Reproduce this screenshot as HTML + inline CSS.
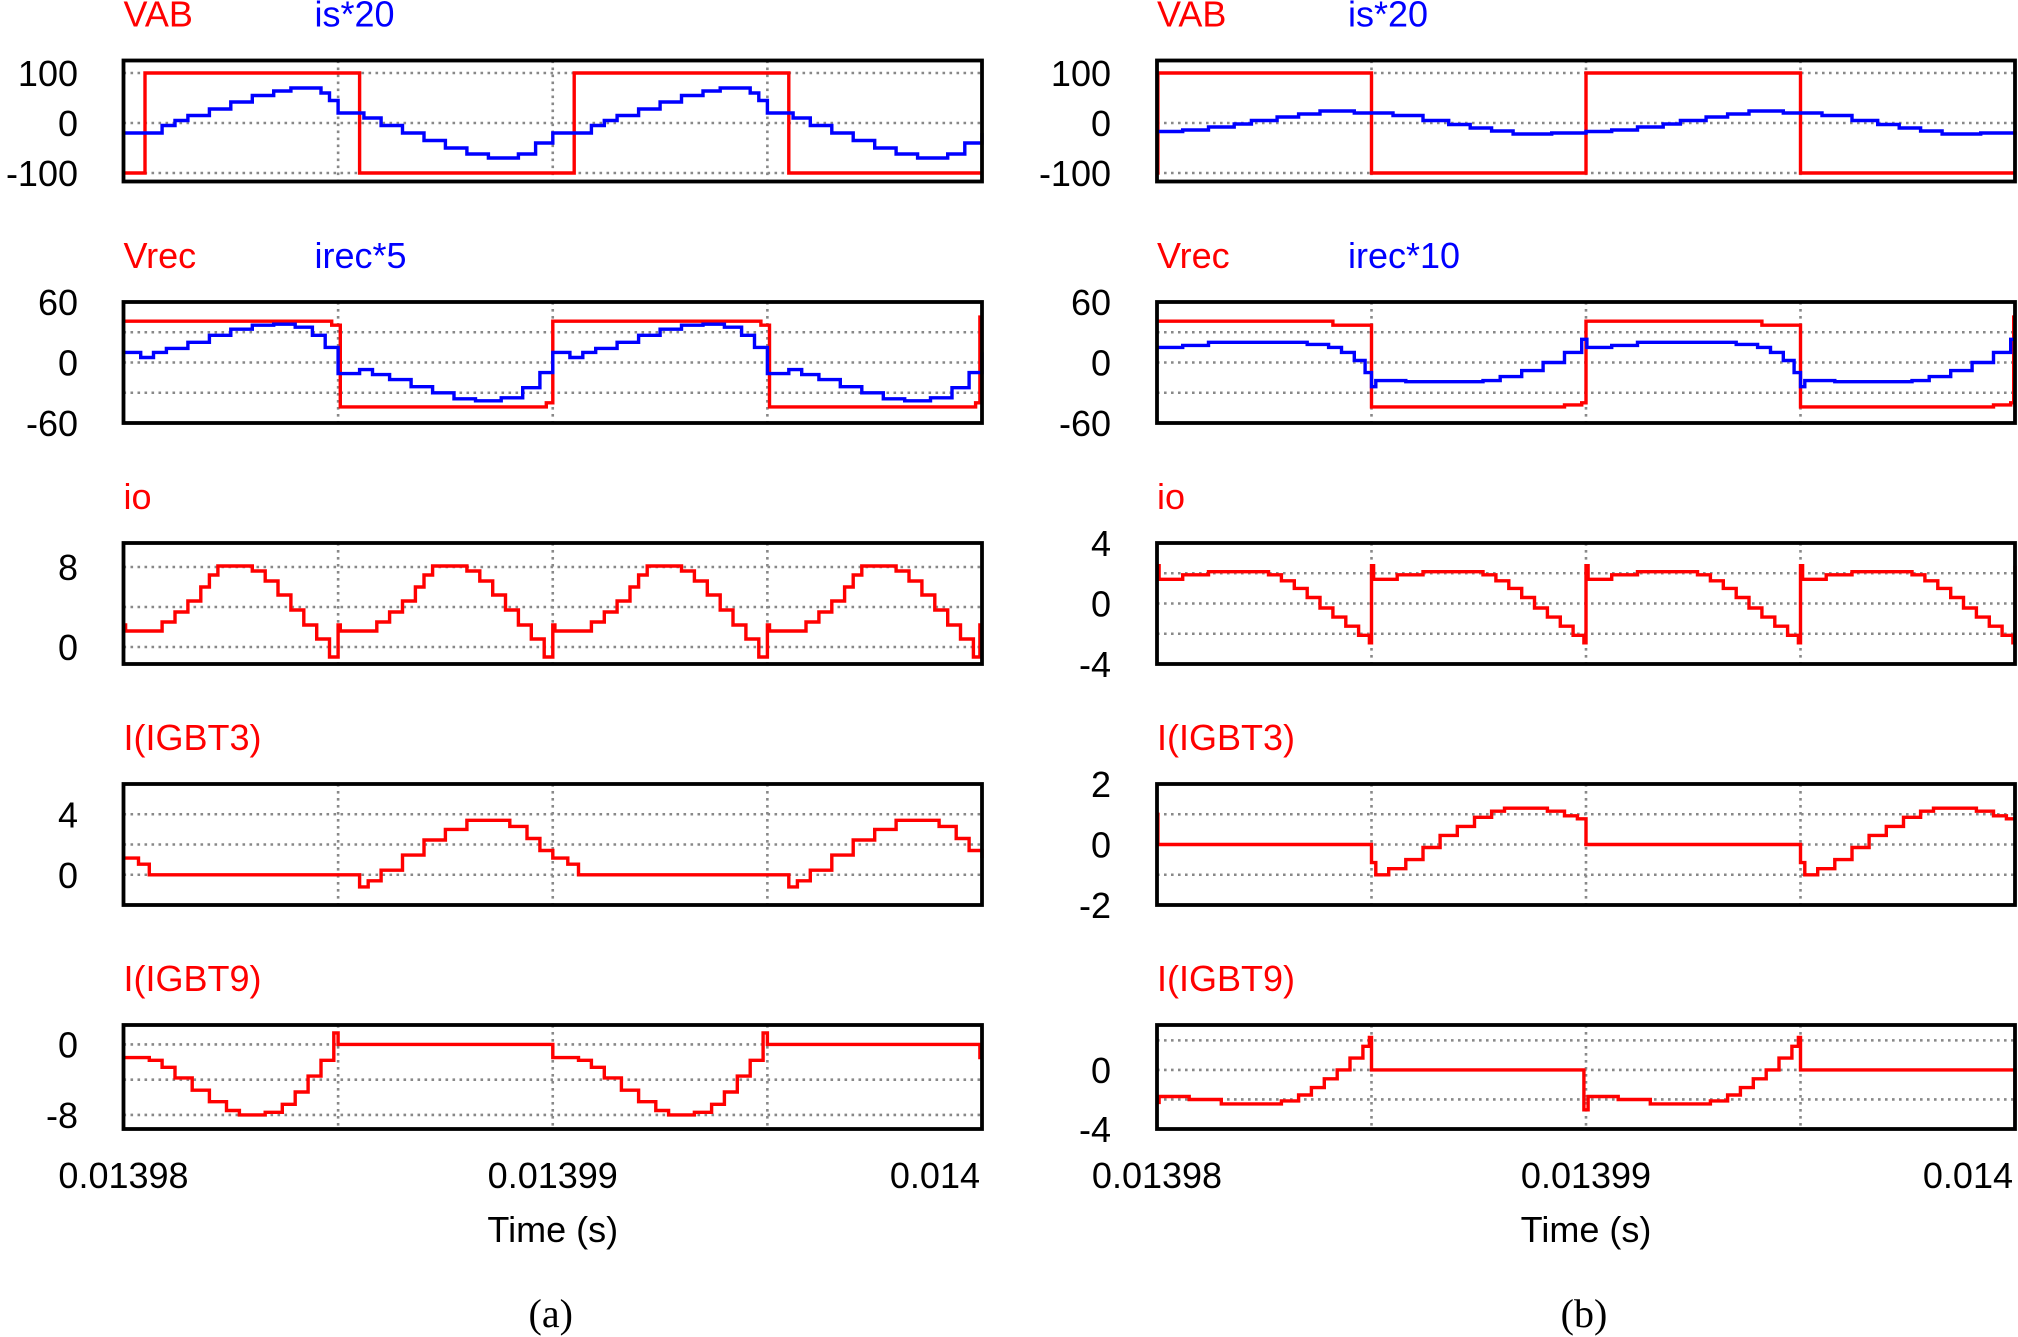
<!DOCTYPE html>
<html><head><meta charset="utf-8">
<style>
html,body{margin:0;padding:0;background:#fff;}
svg{display:block;}
text{font-family:"Liberation Sans",sans-serif;}
</style></head>
<body>
<svg id="fig" width="2018" height="1337" viewBox="0 0 2018 1337" xmlns="http://www.w3.org/2000/svg"></svg>
<script>
// ---- data (time in microseconds after 0.01398 s) ----
const xTickLabels = ["0.01398", "0.01399", "0.014"];
const xTickTimes = [0, 10, 20];

// Panel (a)
const aVAB = [[0,-100],[0.5,100],[5.5,-100],[10.5,100],[15.5,-100],[20,-100]];
const aIs = [[0,-20],[0.9,-5],[1.2,5],[1.5,15],[2,28],[2.5,42],[3,55],[3.5,64],[3.9,70],[4.6,60],[4.8,45],[5,20],[5.6,10],[6,-5],[6.5,-20],[7,-35],[7.5,-50],[8,-62],[8.5,-70],[9.2,-62],[9.6,-40],[10,-20],
  [10.9,-5],[11.2,5],[11.5,15],[12,28],[12.5,42],[13,55],[13.5,64],[13.9,70],[14.6,60],[14.8,45],[15,20],[15.6,10],[16,-5],[16.5,-20],[17,-35],[17.5,-50],[18,-62],[18.5,-70],[19.2,-62],[19.6,-40],[20,-20]];
const aVrec = [[0,41],[4.85,37],[5.05,-44],[9.85,-40],[10.0,41],[14.85,37],[15.05,-44],[19.85,-40],[19.95,45],[20,45]];
const aIrec = [[0,10],[0.4,5],[0.7,10],[1,14],[1.5,20],[2,27],[2.5,33],[3,37],[3.5,38],[4,35],[4.4,27],[4.7,15],[5,-11],[5.5,-7],[5.8,-12],[6.2,-17],[6.7,-24],[7.2,-30],[7.7,-36],[8.2,-38],[8.8,-35],[9.3,-25],[9.7,-10],[10,10],
  [10.4,5],[10.7,10],[11,14],[11.5,20],[12,27],[12.5,33],[13,37],[13.5,38],[14,35],[14.4,27],[14.7,15],[15,-11],[15.5,-7],[15.8,-12],[16.2,-17],[16.7,-24],[17.2,-30],[17.7,-36],[18.2,-38],[18.8,-35],[19.3,-25],[19.7,-10],[20,10]];
const aIo = [[0,2.2],[0.05,1.6],[0.9,2.5],[1.2,3.5],[1.5,4.6],[1.8,6],[2.0,7.2],[2.2,8.1],[3.0,7.6],[3.3,6.6],[3.6,5.2],[3.9,3.7],[4.2,2.2],[4.5,0.8],[4.8,-1],
  [5,2.2],[5.05,1.6],[5.9,2.5],[6.2,3.5],[6.5,4.6],[6.8,6],[7.0,7.2],[7.2,8.1],[8.0,7.6],[8.3,6.6],[8.6,5.2],[8.9,3.7],[9.2,2.2],[9.5,0.8],[9.8,-1],
  [10,2.2],[10.05,1.6],[10.9,2.5],[11.2,3.5],[11.5,4.6],[11.8,6],[12.0,7.2],[12.2,8.1],[13.0,7.6],[13.3,6.6],[13.6,5.2],[13.9,3.7],[14.2,2.2],[14.5,0.8],[14.8,-1],
  [15,2.2],[15.05,1.6],[15.9,2.5],[16.2,3.5],[16.5,4.6],[16.8,6],[17.0,7.2],[17.2,8.1],[18.0,7.6],[18.3,6.6],[18.6,5.2],[18.9,3.7],[19.2,2.2],[19.5,0.8],[19.8,-1],[19.95,2.2],[20,2.2]];
const aIgbt3 = [[0,1.1],[0.35,0.7],[0.6,0],[5.5,-0.8],[5.7,-0.4],[6,0.3],[6.5,1.3],[7,2.3],[7.5,3],[8,3.6],[8.6,3.6],[9,3.2],[9.4,2.4],[9.7,1.6],[10,1.1],[10.35,0.7],[10.6,0],
  [15.5,-0.8],[15.7,-0.4],[16,0.3],[16.5,1.3],[17,2.3],[17.5,3],[18,3.6],[18.6,3.6],[19,3.2],[19.4,2.4],[19.7,1.6],[20,1.1]];
const aIgbt9 = [[0,-1.5],[0.6,-1.8],[0.9,-2.6],[1.2,-3.8],[1.6,-5.2],[2,-6.5],[2.4,-7.5],[2.7,-8],[3.3,-7.7],[3.7,-6.8],[4.0,-5.4],[4.3,-3.6],[4.6,-1.8],[4.9,1.3],[5.0,0],
  [10,-1.5],[10.6,-1.8],[10.9,-2.6],[11.2,-3.8],[11.6,-5.2],[12,-6.5],[12.4,-7.5],[12.7,-8],[13.3,-7.7],[13.7,-6.8],[14.0,-5.4],[14.3,-3.6],[14.6,-1.8],[14.9,1.3],[15.0,0],[19.95,-1.5],[20,-1.5]];

// Panel (b)
const bVAB = [[0,-100],[0.02,100],[5,-100],[10,100],[15,-100],[20,-100]];
const bIs = [[0,-17],[0.6,-14],[1.2,-8],[1.8,-2],[2.2,5],[2.8,12],[3.3,18],[3.8,24],[4.6,20],[5.5,15],[6.2,5],[6.8,-3],[7.3,-10],[7.8,-16],[8.3,-22],[9.2,-20],[10,-17],
  [10.6,-14],[11.2,-8],[11.8,-2],[12.2,5],[12.8,12],[13.3,18],[13.8,24],[14.6,20],[15.5,15],[16.2,5],[16.8,-3],[17.3,-10],[17.8,-16],[18.3,-22],[19.2,-20],[20,-17]];
const bVrec = [[0,41],[4.1,37],[5.0,-44],[9.5,-42],[9.9,-40],[10.0,41],[14.1,37],[15.0,-44],[19.5,-42],[19.9,-40],[19.97,45],[20,45]];
const bIrec = [[0,15],[0.6,17],[1.2,20],[3.5,18],[4,15],[4.3,10],[4.6,2],[4.85,-10],[5,-24],[5.1,-18],[5.8,-19],[7.6,-18],[8,-14],[8.5,-8],[9,0],[9.5,10],[9.9,23],[10.02,15],
  [10.6,17],[11.2,20],[13.5,18],[14,15],[14.3,10],[14.6,2],[14.85,-10],[15,-24],[15.1,-18],[15.8,-19],[17.6,-18],[18,-14],[18.5,-8],[19,0],[19.5,10],[19.9,23],[20,23]];
const bIo = [[0,2.5],[0.05,1.6],[0.6,1.9],[1.2,2.1],[2.6,1.9],[2.9,1.5],[3.2,1.0],[3.5,0.4],[3.8,-0.3],[4.1,-0.9],[4.4,-1.5],[4.7,-2.1],[4.95,-2.6],
  [5,2.5],[5.05,1.6],[5.6,1.9],[6.2,2.1],[7.6,1.9],[7.9,1.5],[8.2,1.0],[8.5,0.4],[8.8,-0.3],[9.1,-0.9],[9.4,-1.5],[9.7,-2.1],[9.95,-2.6],
  [10,2.5],[10.05,1.6],[10.6,1.9],[11.2,2.1],[12.6,1.9],[12.9,1.5],[13.2,1.0],[13.5,0.4],[13.8,-0.3],[14.1,-0.9],[14.4,-1.5],[14.7,-2.1],[14.95,-2.6],
  [15,2.5],[15.05,1.6],[15.6,1.9],[16.2,2.1],[17.6,1.9],[17.9,1.5],[18.2,1.0],[18.5,0.4],[18.8,-0.3],[19.1,-0.9],[19.4,-1.5],[19.7,-2.1],[19.95,-2.6],[20,2.5]];
const bIgbt3 = [[0,1],[0.02,0],[5.0,-0.6],[5.1,-1],[5.4,-0.8],[5.8,-0.5],[6.2,-0.1],[6.6,0.3],[7,0.6],[7.4,0.9],[7.8,1.1],[8.1,1.2],[9.1,1.1],[9.5,0.95],[9.8,0.85],[10,0],
  [15.0,-0.6],[15.1,-1],[15.4,-0.8],[15.8,-0.5],[16.2,-0.1],[16.6,0.3],[17,0.6],[17.4,0.9],[17.8,1.1],[18.1,1.2],[19.1,1.1],[19.5,0.95],[19.8,0.85],[20,0.85]];
const bIgbt9 = [[0,-2.2],[0.05,-1.8],[0.75,-2.0],[1.5,-2.3],[2.9,-2.1],[3.3,-1.7],[3.6,-1.2],[3.9,-0.6],[4.2,0],[4.5,0.8],[4.8,1.6],[4.95,2.2],[5.0,0],
  [9.95,-2.7],[10.05,-1.8],[10.75,-2.0],[11.5,-2.3],[12.9,-2.1],[13.3,-1.7],[13.6,-1.2],[13.9,-0.6],[14.2,0],[14.5,0.8],[14.8,1.6],[14.95,2.2],[15.0,0],[19.95,0],[20,-2.7]];

// ticks
const ticksVAB = [100,0,-100], gridVAB = [100,0,-100];
const ticksVrec = [60,0,-60], gridVrec = [30,0,-30];
const ticksIoA = [8,0], gridIoA = [8,4,0];
const ticksIoB = [4,0,-4], gridIoB = [2,0,-2];
const ticksI3A = [4,0], gridI3A = [4,2,0];
const ticksI3B = [2,0,-2], gridI3B = [1,0,-1];
const ticksI9A = [0,-8], gridI9A = [0,-4,-8];
const ticksI9B = [0,-4], gridI9B = [2,0,-2];

const NS = "http://www.w3.org/2000/svg";
const svg = document.getElementById("fig");
function mk(tag, attrs, parent){ const e=document.createElementNS(NS,tag); for(const k in attrs) e.setAttribute(k,attrs[k]); (parent||svg).appendChild(e); return e; }

const rowTops = [60.5, 302, 543, 784, 1025];
const rowHs = [121, 121, 121, 121, 104];
const cols = [{x0:123.5,x1:982,lab:78,key:'a'},{x0:1157,x1:2015,lab:1111,key:'b'}];
const FS = 36;

const panels = {
 a:[
  {dom:[-117,125], ticks:ticksVAB, grid:gridVAB, labels:[["VAB",0,"#f00"],["is*20",191,"#00f"]], series:[[aVAB,"#f00"],[aIs,"#00f"]]},
  {dom:[-60,60], ticks:ticksVrec, grid:gridVrec, labels:[["Vrec",0,"#f00"],["irec*5",191,"#00f"]], series:[[aVrec,"#f00"],[aIrec,"#00f"]]},
  {dom:[-1.7,10.4], ticks:ticksIoA, grid:gridIoA, labels:[["io",0,"#f00"]], series:[[aIo,"#f00"]]},
  {dom:[-2,6], ticks:ticksI3A, grid:gridI3A, labels:[["I(IGBT3)",0,"#f00"]], series:[[aIgbt3,"#f00"]]},
  {dom:[-9.6,2.2], ticks:ticksI9A, grid:gridI9A, labels:[["I(IGBT9)",0,"#f00"]], series:[[aIgbt9,"#f00"]]}
 ],
 b:[
  {dom:[-117,125], ticks:ticksVAB, grid:gridVAB, labels:[["VAB",0,"#f00"],["is*20",191,"#00f"]], series:[[bVAB,"#f00"],[bIs,"#00f"]]},
  {dom:[-60,60], ticks:ticksVrec, grid:gridVrec, labels:[["Vrec",0,"#f00"],["irec*10",191,"#00f"]], series:[[bVrec,"#f00"],[bIrec,"#00f"]]},
  {dom:[-4,4], ticks:ticksIoB, grid:gridIoB, labels:[["io",0,"#f00"]], series:[[bIo,"#f00"]]},
  {dom:[-2,2], ticks:ticksI3B, grid:gridI3B, labels:[["I(IGBT3)",0,"#f00"]], series:[[bIgbt3,"#f00"]]},
  {dom:[-4,3.04], ticks:ticksI9B, grid:gridI9B, labels:[["I(IGBT9)",0,"#f00"]], series:[[bIgbt9,"#f00"]]}
 ]
};

cols.forEach(c=>{
  const xs = t => c.x0 + (t/20)*(c.x1-c.x0);
  panels[c.key].forEach((p,ri)=>{
    const top=rowTops[ri], rowH=rowHs[ri], bot=top+rowH;
    const ys = v => bot - (v-p.dom[0])/(p.dom[1]-p.dom[0])*rowH;
    const g = mk("g",{});
    
    
    p.labels.forEach(l=>{
      const t=mk("text",{x:c.x0+l[1],y:top-34,fill:l[2],"font-size":FS},g);
      t.textContent=l[0];
      
      
    });
    p.grid.forEach(v=>{
      const ln=mk("line",{x1:c.x0,x2:c.x1,y1:ys(v),y2:ys(v),stroke:"#888","stroke-width":2.6,"stroke-dasharray":"2.6 4.4"},g);
      
      
    });
    [5,10,15].forEach(t=>{
      const ln=mk("line",{x1:xs(t),x2:xs(t),y1:top,y2:bot,stroke:"#888","stroke-width":2.6,"stroke-dasharray":"2.6 4.4"},g);
      
      
    });
    p.ticks.forEach(v=>{
      const t=mk("text",{x:c.lab,y:ys(v)+13,"text-anchor":"end","font-size":FS,fill:"#000"},g);
      t.textContent=String(v);
      
      
    });
    p.series.forEach(s=>{
      const d=s[0]; let path="M"+xs(d[0][0]).toFixed(1)+","+ys(d[0][1]).toFixed(1);
      for(let i=1;i<d.length;i++){
        path+=" H"+xs(d[i][0]).toFixed(1)+" V"+ys(d[i][1]).toFixed(1);
      }
      const pe=mk("path",{d:path,fill:"none",stroke:s[1],"stroke-width":3.4,"stroke-linejoin":"miter"},g);
      
      
    });
    const r=mk("rect",{x:c.x0,y:top,width:c.x1-c.x0,height:rowH,fill:"none",stroke:"#000","stroke-width":3.8},g);
    
    
  });
  xTickTimes.forEach((t,i)=>{
    const anchor = i===2 ? "end" : "middle";
    const x = i===2 ? c.x1-2 : xs(t);
    const e=mk("text",{x:x,y:1188,"text-anchor":anchor,"font-size":FS,fill:"#000"});
    e.textContent=xTickLabels[i];
    
    
  });
  const xt=mk("text",{x:xs(10),y:1242,"text-anchor":"middle","font-size":FS,fill:"#000"});
  xt.textContent="Time (s)";
  
  
  const cap=mk("text",{x:xs(10)-2,y:1327,"text-anchor":"middle","font-size":40,fill:"#000",style:"font-family:'Liberation Serif',serif"});
  cap.textContent="("+c.key+")";
  
  
});
</script>
</body></html>
